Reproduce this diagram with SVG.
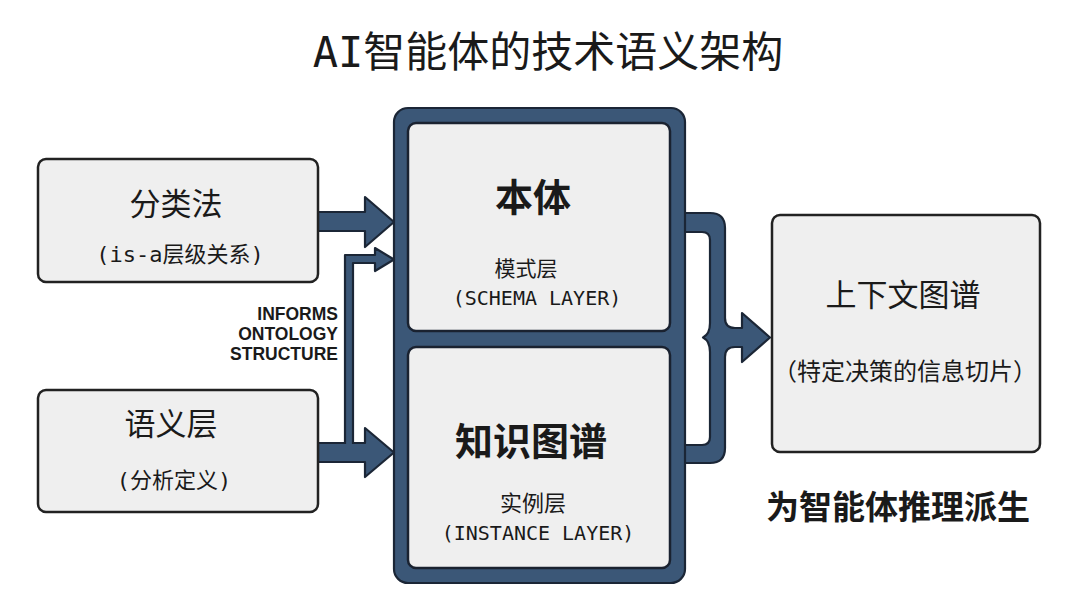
<svg xmlns="http://www.w3.org/2000/svg" width="1080" height="609" viewBox="0 0 1080 609">
<style>
.box{fill:#efefef;stroke:#222;stroke-width:2.5}
.inner{fill:#efefef;stroke:#1a2230;stroke-width:2.5}
.blue{fill:#3b5777;stroke:#1b2636;stroke-width:2.2;stroke-linejoin:round}
.cjk{font-family:"Noto Sans CJK SC",sans-serif;fill:#1a1a1a;text-anchor:middle}
.mono{font-family:"DejaVu Sans Mono","Noto Sans CJK SC",monospace;fill:#1a1a1a;text-anchor:middle}
.lbl{font-family:"Liberation Sans",Arial,sans-serif;font-weight:bold;font-size:17.5px;fill:#1a1a1a;text-anchor:end}
</style>
<rect width="1080" height="609" fill="#ffffff"/>
<text class="mono" x="548" y="67" font-size="42">AI智能体的技术语义架构</text>

<g id="connectors">
<path class="blue" d="M675,213 L710,213 Q725,213 725,228 L725,318 Q725,328 735,328 L742,328 L742,313 L770,337.5 L742,362 L742,347 L735,347 Q725,347 725,357 L725,448 Q725,463 710,463 L675,463 L675,445 L702,445 Q710,445 710,437 L710,352 Q710,341 703,337.5 Q710,334 710,323 L710,240 Q710,232 702,232 L675,232 Z"/>
</g>

<g id="core">
<rect x="394" y="108" width="291" height="475" rx="14" class="blue" stroke-width="2.5"/>
<g id="ontology">
<rect class="inner" x="408" y="123" width="262" height="208" rx="8"/>
<text class="cjk" x="533" y="211" font-size="38" font-weight="bold">本体</text>
<text class="cjk" x="526" y="276" font-size="21">模式层</text>
<text class="mono" x="537" y="305" font-size="20">(SCHEMA LAYER)</text>
</g>
<g id="knowledge-graph">
<rect class="inner" x="408" y="347" width="262" height="221" rx="8"/>
<text class="cjk" x="531" y="455" font-size="38" font-weight="bold">知识图谱</text>
<text class="cjk" x="533" y="511" font-size="22">实例层</text>
<text class="mono" x="538" y="540" font-size="20">(INSTANCE LAYER)</text>
</g>
</g>

<g id="connectors-left">
<path class="blue" d="M318,212 L365,212 L365,197 L394,222 L365,247 L365,231 L318,231 Z"/>
<path class="blue" d="M318,443 L365,443 L365,428 L394,452.5 L365,477 L365,462 L318,462 Z"/>
<path class="blue" d="M345,444 L345,255 L375,255 L375,248 L394,259.5 L375,271 L375,263 L353,263 L353,444" stroke-width="2"/>
<text class="lbl" x="338" y="320">INFORMS</text>
<text class="lbl" x="338" y="340">ONTOLOGY</text>
<text class="lbl" x="338" y="360">STRUCTURE</text>
</g>

<g id="taxonomy">
<rect class="box" x="38" y="159" width="280" height="123" rx="8"/>
<text class="cjk" x="176" y="215" font-size="31">分类法</text>
<text class="mono" x="180" y="262" font-size="22">(is-a层级关系)</text>
</g>

<g id="semantic-layer">
<rect class="box" x="38" y="390" width="280" height="122" rx="8"/>
<text class="cjk" x="171" y="435" font-size="31">语义层</text>
<text class="mono" x="174" y="488" font-size="22">(分析定义)</text>
</g>

<g id="context-graph">
<rect class="box" x="772" y="215" width="268" height="237" rx="8"/>
<text class="cjk" x="903" y="306" font-size="31">上下文图谱</text>
<text class="cjk" x="905" y="380" font-size="24">（特定决策的信息切片）</text>
</g>

<text class="cjk" x="898" y="519" font-size="33" font-weight="bold">为智能体推理派生</text>
</svg>
